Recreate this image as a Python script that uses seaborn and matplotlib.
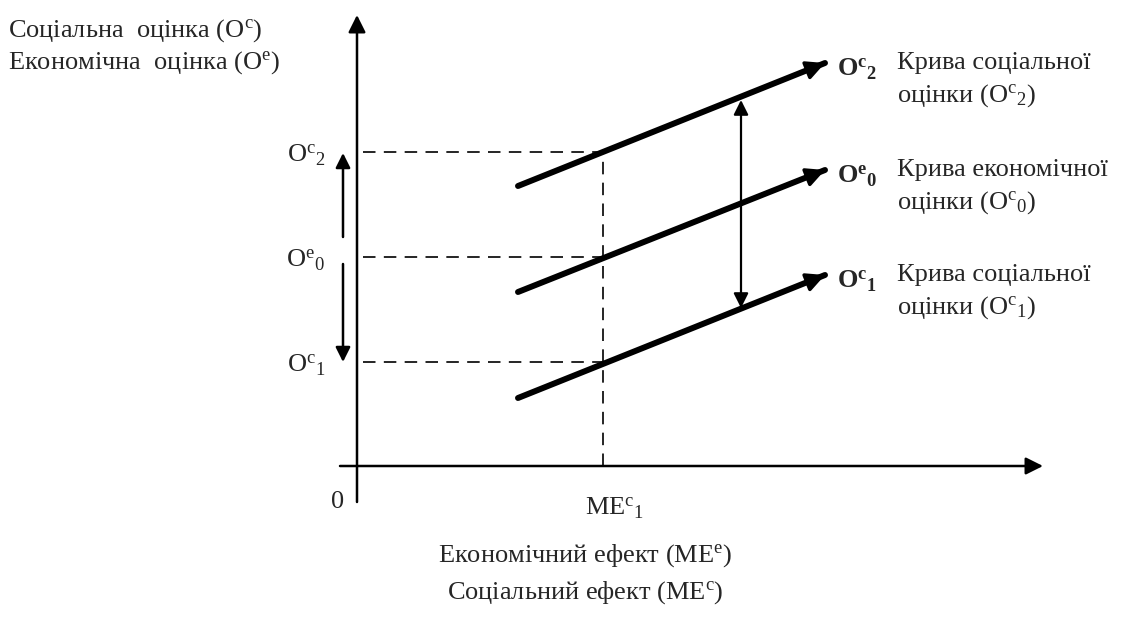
import pandas as pd
import numpy as np
import seaborn as sns
import matplotlib.pyplot as plt

# diagram units: origin at the axes crossing, 1 unit ~ 1 px
curve_names = ['Oc2', 'Oe0', 'Oc1']
curve_x = [161, 468]
curve_y_start = [280, 174, 68]
curve_y_end = [403, 296, 191]
curve_tags = [r'$\mathbf{O}^{\mathbf{c}}{}_{\mathbf{2}}$',
              r'$\mathbf{O}^{\mathbf{e}}{}_{\mathbf{0}}$',
              r'$\mathbf{O}^{\mathbf{c}}{}_{\mathbf{1}}$']
curve_text = [['Крива соціальної', r'оцінки (O$^{\mathrm{c}}{}_{2}$)'],
              ['Крива економічної', r'оцінки (O$^{\mathrm{c}}{}_{0}$)'],
              ['Крива соціальної', r'оцінки (O$^{\mathrm{c}}{}_{1}$)']]

me1 = 246
levels = [314, 209, 104]
level_labels = [r'O$^{\mathrm{c}}{}_{2}$', r'O$^{\mathrm{e}}{}_{0}$', r'O$^{\mathrm{c}}{}_{1}$']

y_title = ['Соціальна  оцінка (O$^{\mathrm{c}}$)', 'Економічна  оцінка (O$^{\mathrm{e}}$)']
x_title = ['Економічний ефект (ME$^{\mathrm{e}}$)', 'Соціальний ефект (ME$^{\mathrm{c}}$)']
x_tick = r'ME$^{\mathrm{c}}{}_{1}$'

sns.set_style('white')
plt.rcParams['font.family'] = ['Liberation Serif', 'DejaVu Serif']
plt.rcParams['mathtext.fontset'] = 'custom'
plt.rcParams['mathtext.rm'] = 'Liberation Serif'
plt.rcParams['mathtext.it'] = 'Liberation Serif:italic'
plt.rcParams['mathtext.bf'] = 'Liberation Serif:bold'

fig = plt.figure(figsize=(11.39, 6.18), dpi=100)
ax = fig.add_axes([0, 0, 1, 1])
ax.set_xlim(-357, 782)
ax.set_ylim(-152, 466)
ax.axis('off')

fs = 19
dash = (0, (7.5, 5))

# axes with arrows
ax.annotate('', xy=(0, 451), xytext=(0, -36),
            arrowprops=dict(arrowstyle='-|>', lw=1.8, color='k', mutation_scale=26, shrinkA=0, shrinkB=0))
ax.annotate('', xy=(686, 0), xytext=(-17, 0),
            arrowprops=dict(arrowstyle='-|>', lw=1.8, color='k', mutation_scale=26, shrinkA=0, shrinkB=0))

# dashed guides
for lv in levels:
    sns.lineplot(x=[6, me1], y=[lv, lv], color='k', lw=1.2, linestyle=dash,
                 estimator=None, sort=False, ax=ax)
sns.lineplot(x=[me1, me1], y=[0, levels[0]], color='k', lw=1.2, linestyle=dash,
             estimator=None, sort=False, ax=ax)

# curves
df = pd.DataFrame({
    'curve': np.repeat(curve_names, 2),
    'x': curve_x * 3,
    'y': [v for pair in zip(curve_y_start, curve_y_end) for v in pair],
})
sns.lineplot(data=df, x='x', y='y', units='curve', estimator=None, color='k', lw=4.3, ax=ax, legend=False)
for i in range(3):
    x0, x1 = curve_x
    y0, y1 = curve_y_start[i], curve_y_end[i]
    t = 0.85
    ax.annotate('', xy=(x1, y1), xytext=(x0 + t * (x1 - x0), y0 + t * (y1 - y0)),
                arrowprops=dict(arrowstyle='-|>', lw=2.5, color='k', mutation_scale=28, shrinkA=0, shrinkB=0))
    ax.text(x1 + 12, y1 - 6, curve_tags[i], fontsize=fs, va='center', ha='left')
    ax.text(x1 + 72, y1 + 0, curve_text[i][0], fontsize=fs, va='center', ha='left')
    ax.text(x1 + 72, y1 - 33, curve_text[i][1], fontsize=fs, va='center', ha='left')

# double arrow between social curves
ax.annotate('', xy=(384, 366), xytext=(384, 158),
            arrowprops=dict(arrowstyle='<|-|>', lw=1.6, color='k', mutation_scale=22, shrinkA=0, shrinkB=0))

# arrows on the left
ax.annotate('', xy=(-14, levels[0] - 1), xytext=(-14, 229),
            arrowprops=dict(arrowstyle='-|>', lw=1.8, color='k', mutation_scale=22, shrinkA=0, shrinkB=0))
ax.annotate('', xy=(-14, levels[2]), xytext=(-14, 202),
            arrowprops=dict(arrowstyle='-|>', lw=1.8, color='k', mutation_scale=22, shrinkA=0, shrinkB=0))

for lv, lab in zip(levels, level_labels):
    ax.text(-32, lv - 3, lab, fontsize=fs, ha='right', va='center')

ax.text(-19, -36, '0', fontsize=fs, ha='center', va='center')
ax.text(me1 + 12, -42, x_tick, fontsize=fs, ha='center', va='center')

ax.text(-349, 435, y_title[0], fontsize=fs, ha='left', va='center')
ax.text(-349, 403, y_title[1], fontsize=fs, ha='left', va='center')
ax.text(228, -90, x_title[0], fontsize=fs, ha='center', va='center')
ax.text(228, -127, x_title[1], fontsize=fs, ha='center', va='center')

fig.savefig('out.png', dpi=100)
